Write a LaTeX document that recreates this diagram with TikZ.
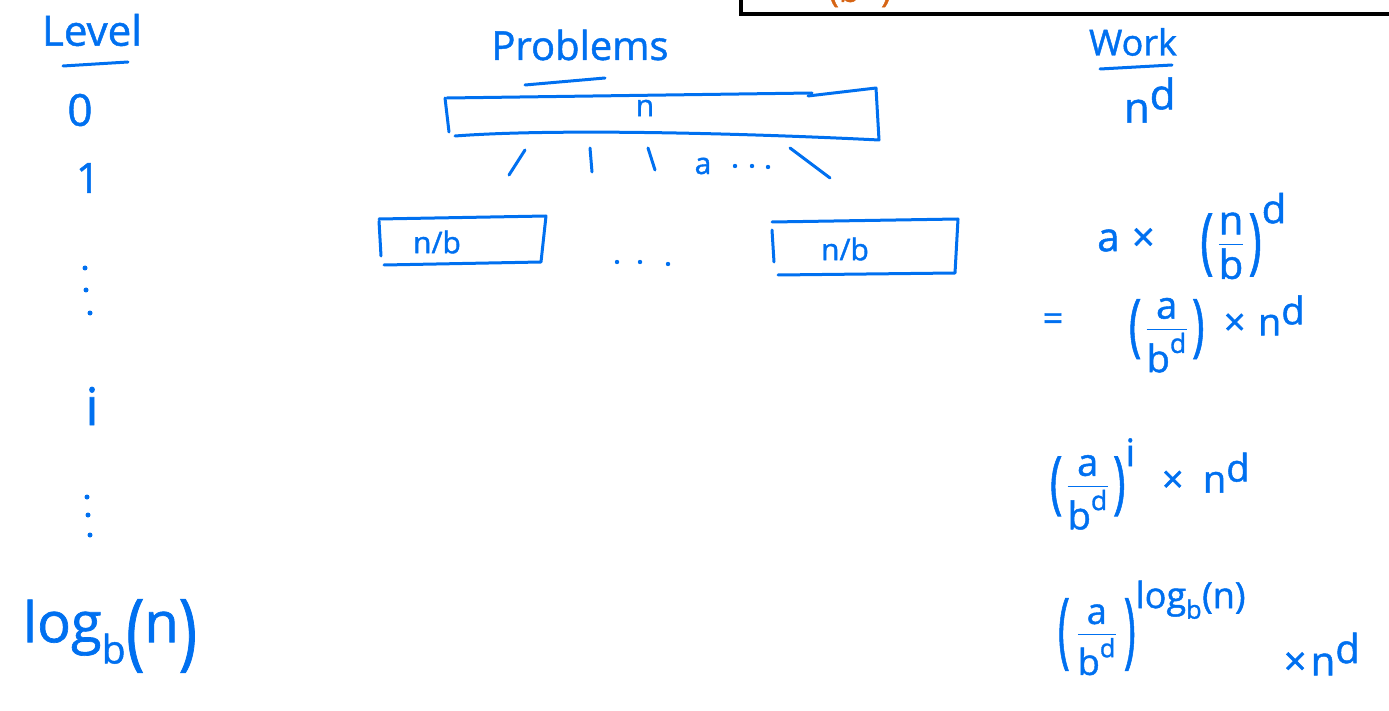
\documentclass[tikz,border=0pt]{standalone}
\usepackage{amsmath}
\usepackage{graphicx}
\usepackage{fontspec}
\setmainfont{Open Sans}[FakeBold=1.2]
\definecolor{ink}{RGB}{0,112,240}
\definecolor{note}{RGB}{214,100,20}
\newcommand{\tx}[1]{\text{#1}}
\newcommand{\up}[1]{^{\textstyle\tx{#1}}}
% tall hand-style parentheses, centred on the math axis
\newcommand{\lp}[1][1.8]{\mathopen{\vcenter{\hbox{\scalebox{1.1}[#1]{(}}}}}
\newcommand{\rp}[1][1.8]{\mathclose{\vcenter{\hbox{\scalebox{1.1}[#1]{)}}}}}
\newcommand{\tm}{\mathbin{\tx{×}}}
\tikzset{
  pen/.style={draw=ink, line width=3pt, line cap=round, line join=round},
  lbl/.style={text=ink, inner sep=0pt, font=\fontsize{#1}{#1}\selectfont},
  lbl/.default=36,
  dotmark/.style={fill=ink, draw=none}
}
\begin{document}
\begin{tikzpicture}[x=1pt, y=-1pt]
\useasboundingbox (0,0) rectangle (1389,711);
\begin{scope}
\clip (0,0) rectangle (1389,711);

% frame of a note above, with its orange text cut by the page edge
\draw[line width=4pt, line join=miter] (741,-30) -- (741,14) -- (1420,14);
\node[text=note, inner sep=0pt, font=\fontsize{34}{34}\selectfont] (note) at (860,-9) {(b\textsuperscript{ d})};

% level column
\node[lbl=42] (level) at (92,30) {Level};
\draw[pen] (63,66) -- (128,62);
\node[lbl=44] (l0) at (80,110) {0};
\node[lbl=42] (l1) at (88,178) {1};
\fill[dotmark] (85,268) circle (2.5) (86,290) circle (2.5) (90,313) circle (2.5);
\node[lbl=52] (li) at (92,406) {i};
\fill[dotmark] (87,497) circle (2.5) (88,515) circle (2.5) (90,535) circle (2.5);
\node[lbl=56] (llog) at (110,636) {$\tx{log}_{\tx{b}}\lp[1.5]\tx{n}\rp[1.5]$};

% problems column
\node[lbl=40] (prob) at (580,45) {Problems};
\draw[pen] (525,85) -- (605,78);

\node[lbl=30] (root) at (645,108) {n};
\draw[pen] (447,98) -- (812,93);
\draw[pen] (808,96) -- (876,88) -- (879,140) .. controls (760,134) and (560,128) .. (455,136);
\draw[pen] (445,98) -- (449,132);

% branches towards the sub-problems
\coordinate (b1a) at (525,150); \coordinate (b1b) at (509,175);
\coordinate (b2a) at (590,148); \coordinate (b2b) at (592,172);
\coordinate (b3a) at (648,148); \coordinate (b3b) at (655,170);
\coordinate (b4a) at (790,148); \coordinate (b4b) at (830,178);
\draw[pen] (b1a) -- (b1b);
\draw[pen] (b2a) -- (b2b);
\draw[pen] (b3a) -- (b3b);
\draw[pen] (b4a) -- (b4b);
\node[lbl=30] (acount) at (703,166) {a};
\fill[dotmark] (735,166) circle (2.2) (752,166) circle (2.2) (768,167) circle (2.2);

% sub-problem boxes
\node[lbl=30] (subl) at (437,242) {n/b};
\draw[pen] (379,219) -- (546,216) -- (541,262) -- (384,265);
\draw[pen] (379,221) -- (381,256);
\node[lbl=30] (subr) at (845,249) {n/b};
\draw[pen] (772,222) -- (958,219) -- (955,273) -- (778,275);
\draw[pen] (772,230) -- (774,262);
\fill[dotmark] (617,262) circle (2.2) (640,262) circle (2.2) (668,264) circle (2.2);

% work column
\node[lbl=36] (work) at (1133,42) {Work};
\draw[pen] (1100,69) -- (1172,65);
\node[lbl=42] (w0) at (1150,100) {$\tx{n}\up{d}$};
\node[lbl=40] (w1) at (1192,236) {$\tx{a}\;\tm\quad\lp\,\dfrac{\tx{n}}{\tx{b}}\,\rp\up{d}$};
\node[lbl=36] (w2eq) at (1053,322) {=};
\node[lbl=38] (w2) at (1217,334) {$\lp\,\dfrac{\tx{a}}{\tx{b}^{\tx{d}}}\,\rp\;\;\tm\;\tx{n}\up{d}$};
\node[lbl=38] (w3) at (1150,484) {$\lp\,\dfrac{\tx{a}}{\tx{b}^{\tx{d}}}\,\rp^{\textstyle\tx{i}}\;\;\;\tm\;\;\tx{n}\up{d}$};
\node[lbl=36] (w4) at (1152,628) {$\lp[2.3]\;\dfrac{\tx{a}}{\tx{b}^{\tx{d}}}\;\rp[2.3]^{\textstyle\tx{log}_{\tx{b}}\tx{(n)}}$};
\node[lbl=40] (w4b) at (1322,654) {$\tm\,\tx{n}\up{d}$};
\end{scope}
\end{tikzpicture}
\end{document}
